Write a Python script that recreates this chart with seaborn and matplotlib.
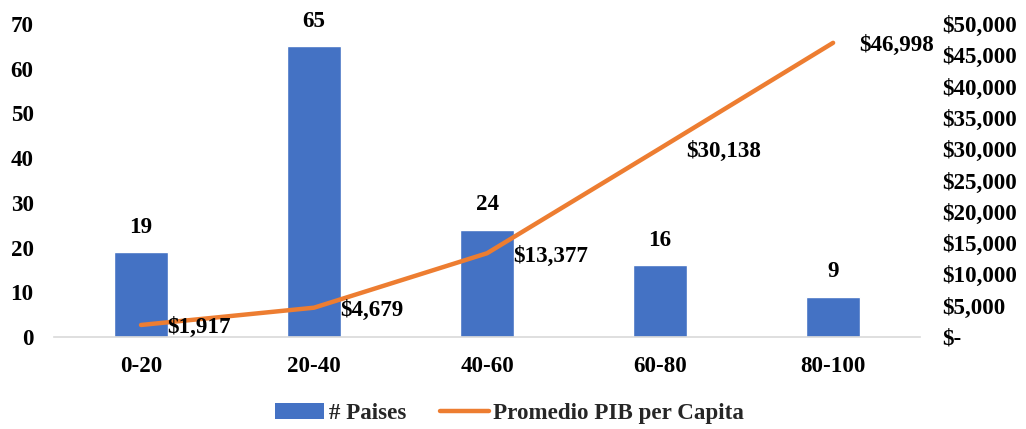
import matplotlib
matplotlib.use("Agg")
import matplotlib.pyplot as plt
import seaborn as sns
import numpy as np
import pandas as pd
from matplotlib.patches import Patch
from matplotlib.lines import Line2D
from matplotlib.ticker import FuncFormatter, MultipleLocator

# Data
rangos = ["0-20", "20-40", "40-60", "60-80", "80-100"]
paises = [19, 65, 24, 16, 9]
pib_per_capita = [1917, 4679, 13377, 30138, 46998]

BLUE = "#4472C4"
ORANGE = "#ED7D31"
FS = 16.6

sns.set_theme(style="white")
plt.rcParams["font.family"] = ["Liberation Serif", "DejaVu Serif"]
plt.rcParams["font.weight"] = "bold"

df = pd.DataFrame({"rango": rangos, "paises": paises, "pib": pib_per_capita,
                   "pos": np.arange(len(rangos))})

fig = plt.figure(figsize=(10.26, 4.29), dpi=100)
ax = fig.add_axes([0.0531, 0.2145, 0.8432, 0.7295])

sns.barplot(data=df, x="rango", y="paises", color=BLUE, width=0.31,
            saturation=1, ax=ax)
ax.set_xlim(-0.5, len(rangos) - 0.5)
ax.set_ylim(0, 70)
ax.yaxis.set_major_locator(MultipleLocator(10))
ax.set_xlabel("")
ax.set_ylabel("")

for i, v in enumerate(paises):
    ax.annotate(f"{v}", xy=(i, v), xytext=(0, 14), textcoords="offset points",
                ha="center", va="baseline", fontsize=FS, fontweight="bold",
                color="black")

ax2 = ax.twinx()
sns.lineplot(data=df, x="pos", y="pib", color=ORANGE, linewidth=3.2,
             ax=ax2, solid_capstyle="round")
ax2.set_ylim(0, 50000)
ax2.yaxis.set_major_locator(MultipleLocator(5000))
ax2.yaxis.set_major_formatter(FuncFormatter(
    lambda v, p: "$-" if v == 0 else f"${v:,.0f}"))
ax2.set_xlabel("")
ax2.set_ylabel("")
ax2.set_xlim(-0.5, len(rangos) - 0.5)

for i, v in enumerate(pib_per_capita):
    ax2.annotate(f"${v:,}", xy=(i, v), xytext=(19, -2),
                 textcoords="offset points", ha="left", va="center",
                 fontsize=FS, fontweight="bold", color="black")

for a in (ax, ax2):
    for side in ("top", "left", "right"):
        a.spines[side].set_visible(False)
    a.spines["bottom"].set_color("#D9D9D9")
    a.spines["bottom"].set_linewidth(1.2)
    a.tick_params(length=0, labelsize=FS, colors="black")
    for lab in a.get_xticklabels() + a.get_yticklabels():
        lab.set_fontweight("bold")
    a.grid(False)

ax.tick_params(axis="x", pad=14)
ax.tick_params(axis="y", pad=15)
ax2.tick_params(axis="y", pad=16)
ax2.spines["bottom"].set_visible(False)

handles = [Patch(facecolor=BLUE, edgecolor="none", label="# Paises"),
           Line2D([0], [0], color=ORANGE, linewidth=3.2,
                  solid_capstyle="round", label="Promedio PIB per Capita")]
fig.legend(handles=handles, loc="center", bbox_to_anchor=(0.497, 0.037),
           ncol=2, frameon=False, handlelength=2.1, handletextpad=0.2,
           columnspacing=1.5, prop={"size": FS, "weight": "bold"})

fig.savefig("out.png", dpi=100)
